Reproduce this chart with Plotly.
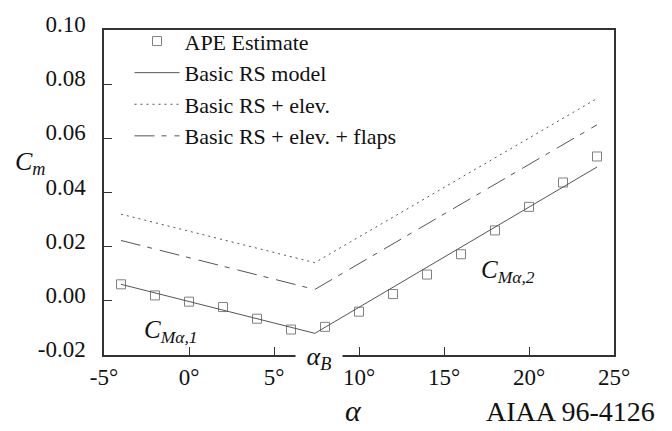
import plotly.graph_objects as go

# Data
alpha_ape = [-4, -2, 0, 2, 4, 6, 8, 10, 12, 14, 16, 18, 20, 22, 24]
cm_ape = [0.0061, 0.0020, -0.0003, -0.0023, -0.0066, -0.0106, -0.0096,
          -0.0040, 0.0025, 0.0097, 0.0172, 0.0260, 0.0347, 0.0437, 0.0533]

alpha_model = [-4, 7.4, 24]
cm_basic = [0.0061, -0.0120, 0.0494]
cm_elev = [0.0320, 0.0141, 0.0747]
cm_flaps = [0.0223, 0.0042, 0.0650]

x_tickvals = [-5, 0, 5, 10, 15, 20, 25]
x_ticktext = ["-5°", "0°", "5°", "10°", "15°", "20°", "25°"]
y_tickvals = [-0.02, 0.00, 0.02, 0.04, 0.06, 0.08, 0.10]
y_ticktext = ["-0.02", "0.00", "0.02", "0.04", "0.06", "0.08", "0.10"]

FONT = "'Liberation Serif', 'Times New Roman', 'DejaVu Serif', serif"
LINE_COL = "#555555"

fig = go.Figure()
fig.add_trace(go.Scatter(
    x=alpha_ape, y=cm_ape, mode="markers", name="APE Estimate",
    marker=dict(symbol="square-open", size=9, color="#808080",
                line=dict(width=1, color="#808080")),
))
fig.add_trace(go.Scatter(
    x=alpha_model, y=cm_basic, mode="lines", name="Basic RS model",
    line=dict(color=LINE_COL, width=1),
))
fig.add_trace(go.Scatter(
    x=alpha_model, y=cm_elev, mode="lines", name="Basic RS + elev.",
    line=dict(color=LINE_COL, width=1, dash="2px,4px"),
))
fig.add_trace(go.Scatter(
    x=alpha_model, y=cm_flaps, mode="lines", name="Basic RS + elev. + flaps",
    line=dict(color=LINE_COL, width=1, dash="20px,7px,5px,8px"),
))

axis_common = dict(
    showgrid=False, zeroline=False, showline=True, linecolor="#333333",
    linewidth=1.5, mirror=True, ticks="inside", ticklen=8, tickwidth=1.2,
    tickcolor="#333333", tickfont=dict(family=FONT, size=23, color="#111111"),
    ticklabeloverflow="allow",
)

fig.update_xaxes(range=[-5, 25], tickvals=x_tickvals, ticktext=x_ticktext,
                 ticklabelstandoff=1, **axis_common)
fig.update_yaxes(range=[-0.02, 0.10], tickvals=y_tickvals, ticktext=y_ticktext,
                 ticklabelstandoff=12, ticklabelshift=-6, **axis_common)

annots = [
    dict(text="<i>C</i><sub><i>m</i></sub>", x=-0.145, y=0.59, size=26),
    dict(text="<i>α</i>", x=0.49, y=-0.172, size=30),
    dict(text="AIAA 96-4126", x=0.914, y=-0.173, size=28),
    dict(text="<i>C</i><sub><i>Mα,1</i></sub>", x=0.131, y=0.073, size=25),
    dict(text="<i>C</i><sub><i>Mα,2</i></sub>", x=0.792, y=0.257, size=25),
]
for a in annots:
    fig.add_annotation(text=a["text"], xref="paper", yref="paper",
                       x=a["x"], y=a["y"], xanchor="center", yanchor="middle",
                       showarrow=False,
                       font=dict(family=FONT, size=a["size"], color="#111111"))

# alpha_B label interrupting the bottom axis line
fig.add_annotation(text="<i>α</i><sub><i>B</i></sub>", xref="paper", yref="paper",
                   x=0.4225, y=-0.01, xanchor="center", yanchor="middle",
                   showarrow=False, bgcolor="white", width=44, height=24,
                   font=dict(family=FONT, size=26, color="#111111"))

fig.update_layout(
    width=672, height=431,
    margin=dict(l=104, r=58, t=13, b=76),
    paper_bgcolor="white", plot_bgcolor="white",
    font=dict(family=FONT, color="#111111"),
    legend=dict(x=0.05, y=1.03, xanchor="left", yanchor="top",
                bgcolor="rgba(0,0,0,0)", font=dict(family=FONT, size=22, color="#111111"),
                itemwidth=45, tracegroupgap=0),
    showlegend=True,
)

fig.write_html("out.html", config={"displayModeBar": False},
               post_script="document.body.style.margin='0px';")
